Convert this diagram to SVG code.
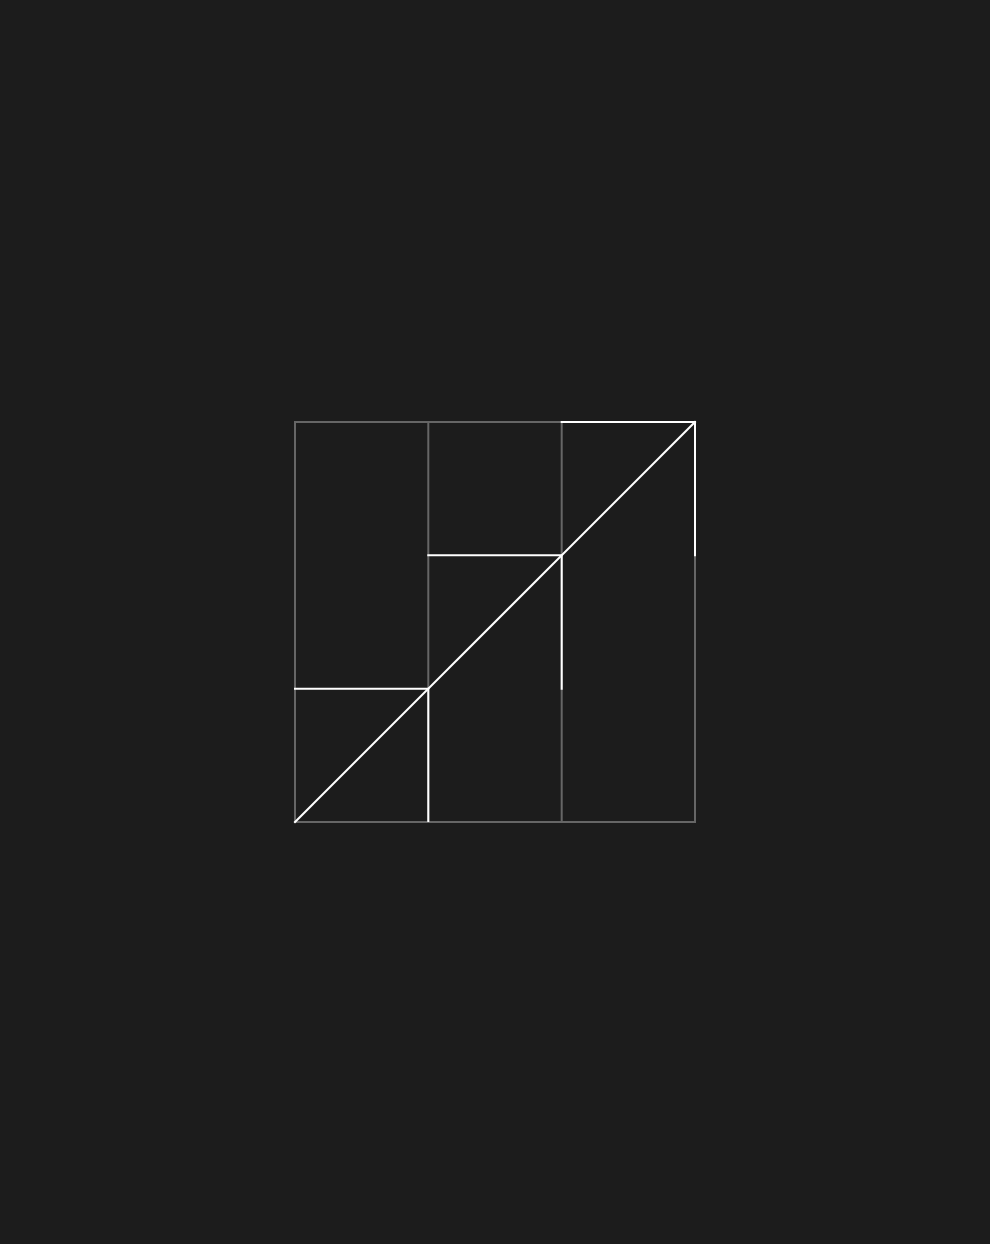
<svg xmlns="http://www.w3.org/2000/svg" width="990" height="1244" viewBox="0 0 990 1244">
<style>
.g{stroke:#666666;stroke-width:2;fill:none}
.w{stroke:#ffffff;stroke-width:2;fill:none;stroke-linecap:square}
</style>
<rect width="990" height="1244" fill="#1c1c1c"/>
<g id="grid">
<rect class="g" x="295" y="422" width="400" height="400"/>
<line class="g" x1="428.3" y1="422" x2="428.3" y2="822"/>
<line class="g" x1="561.7" y1="422" x2="561.7" y2="822"/>
</g>
<g id="connectors">
<line class="w" x1="295" y1="822" x2="695" y2="422"/>
<polyline class="w" points="295,688.7 428.3,688.7 428.3,821"/>
<polyline class="w" points="428.3,555.3 561.7,555.3 561.7,688.7"/>
<polyline class="w" points="561.7,422 695,422 695,555.3"/>
</g>
</svg>
